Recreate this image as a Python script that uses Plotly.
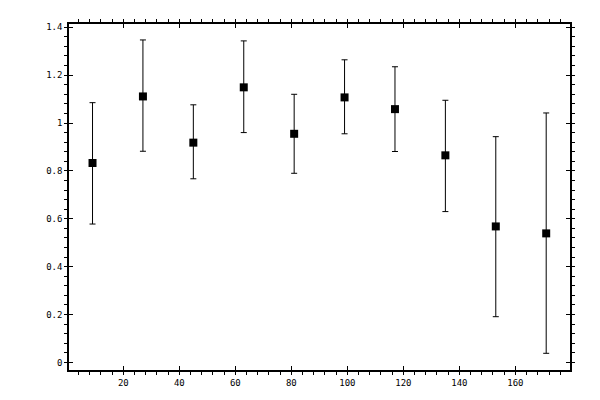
import plotly.graph_objects as go

# bin centres and measured ratio with asymmetric errors
x_vals = [9, 27, 45, 63, 81, 99, 117, 135, 153, 171]
y_vals = [0.833, 1.111, 0.918, 1.149, 0.955, 1.107, 1.058, 0.865, 0.568, 0.539]
y_high = [1.085, 1.347, 1.076, 1.343, 1.120, 1.264, 1.235, 1.095, 0.943, 1.042]
y_low = [0.578, 0.882, 0.767, 0.960, 0.790, 0.955, 0.881, 0.630, 0.191, 0.038]

err_plus = [h - y for h, y in zip(y_high, y_vals)]
err_minus = [y - l for y, l in zip(y_vals, y_low)]

x_range = [0.6, 179.5]
y_range = [-0.0317, 1.4136]

fig = go.Figure()

fig.add_trace(go.Scatter(
    x=x_vals, y=y_vals,
    mode='markers',
    marker=dict(symbol='square', size=8, color='black'),
    error_y=dict(type='data', symmetric=False, array=err_plus, arrayminus=err_minus,
                 color='black', thickness=1, width=3),
    showlegend=False
))

# dummy trace so the overlay axes (inner half of major ticks) get drawn
fig.add_trace(go.Scatter(x=[None], y=[None], xaxis='x2', yaxis='y2', showlegend=False))

axis_font = dict(family='DejaVu Sans Mono', size=9, color='black')

# page body adds an 8px offset, so margins are shifted to compensate
fig.update_layout(
    width=600, height=400,
    margin=dict(l=61, r=38, t=11, b=38),
    paper_bgcolor='white',
    plot_bgcolor='white',
    xaxis=dict(
        range=x_range, dtick=20, tick0=0,
        ticks='outside', ticklen=3, tickwidth=1, tickcolor='black',
        minor=dict(dtick=4, tick0=0, ticks='outside', ticklen=3, tickwidth=1, tickcolor='black'),
        showline=True, linecolor='black', linewidth=1.5, mirror='ticks',
        showgrid=False, zeroline=False, tickfont=axis_font
    ),
    yaxis=dict(
        range=y_range, dtick=0.2, tick0=0,
        ticks='outside', ticklen=3, tickwidth=1, tickcolor='black',
        minor=dict(dtick=0.04, tick0=0, ticks='outside', ticklen=3, tickwidth=1, tickcolor='black'),
        showline=True, linecolor='black', linewidth=1.5, mirror='ticks',
        showgrid=False, zeroline=False, tickfont=axis_font
    ),
    xaxis2=dict(
        range=x_range, dtick=20, tick0=0, overlaying='x', anchor='y2',
        ticks='inside', ticklen=4, tickwidth=1, tickcolor='black', mirror='ticks',
        showticklabels=False, showline=False, showgrid=False, zeroline=False
    ),
    yaxis2=dict(
        range=y_range, dtick=0.2, tick0=0, overlaying='y', anchor='x2',
        ticks='inside', ticklen=4, tickwidth=1, tickcolor='black', mirror='ticks',
        showticklabels=False, showline=False, showgrid=False, zeroline=False
    )
)

fig.write_html("out.html")
